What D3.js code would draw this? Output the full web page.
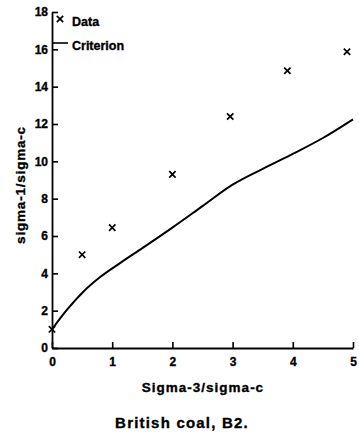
<!DOCTYPE html>
<html><head><meta charset="utf-8">
<script src="https://cdn.jsdelivr.net/npm/d3@7"></script>
<style>
body{margin:0;background:#fff;}
text{font-family:"Liberation Sans",Arial,sans-serif;font-weight:bold;fill:#000;stroke:#000;stroke-width:0.35px;}
</style></head>
<body>
<svg id="c" width="359" height="436"></svg>
<script>
const dataX = [0, 0.5, 1, 2, 2.96, 3.91, 4.9];
const dataY = [1, 5.0, 6.45, 9.3, 12.4, 14.85, 15.87];
const critX = [0, 0.25, 0.5, 0.8, 1.13, 1.5, 2, 2.5, 3, 3.5, 4, 4.5, 5];
const critY = [1, 2.05, 2.95, 3.8, 4.55, 5.35, 6.45, 7.6, 8.75, 9.6, 10.4, 11.25, 12.25];
const xTicks = [0, 1, 2, 3, 4, 5];
const yTicks = [0, 2, 4, 6, 8, 10, 12, 14, 16, 18];
const legendLabels = ["Data", "Criterion"];

const svg = d3.select("#c");
const x = d3.scaleLinear().domain([0, 5]).range([52, 353]);
const y = d3.scaleLinear().domain([0, 18]).range([348, 12]);

// axes
const xa = svg.append("g").attr("transform", `translate(0,${y(0)})`)
  .call(d3.axisBottom(x).tickValues(xTicks).tickSizeInner(-6).tickSizeOuter(0).tickPadding(9).tickFormat(d3.format("d")));
const ya = svg.append("g").attr("transform", `translate(${x(0)},0)`)
  .call(d3.axisLeft(y).tickValues(yTicks).tickSizeInner(-6).tickSizeOuter(0).tickPadding(10).tickFormat(d3.format("d")));
[xa, ya].forEach(a => {
  a.attr("font-family", null).attr("font-size", null);
  a.select(".domain").attr("stroke", "#000").attr("stroke-width", 1.8);
  a.selectAll(".tick line").attr("stroke", "#000").attr("stroke-width", 1.6);
  a.selectAll(".tick text").style("font-size", "12px");
});
ya.selectAll(".tick text").attr("x", -4);

// criterion curve
const line = d3.line().x((d, i) => x(critX[i])).y((d, i) => y(critY[i])).curve(d3.curveMonotoneX);
svg.append("path").datum(critX).attr("d", line)
  .attr("fill", "none").attr("stroke", "#000").attr("stroke-width", 2);

// data markers
const cross = d3.symbol().type(d3.symbolX).size(28);
svg.selectAll(".pt").data(dataX).join("path")
  .attr("transform", (d, i) => `translate(${x(d)},${y(dataY[i])})`)
  .attr("d", cross).attr("stroke", "#000").attr("stroke-width", 1.7).attr("fill", "none");

// legend
svg.append("path").attr("transform", "translate(60,19)").attr("d", cross)
  .attr("stroke", "#000").attr("stroke-width", 1.7).attr("fill", "none");
svg.append("text").attr("x", 72).attr("y", 26).style("font-size", "12.5px").text(legendLabels[0]);
svg.append("line").attr("x1", 52).attr("x2", 68).attr("y1", 43).attr("y2", 43)
  .attr("stroke", "#000").attr("stroke-width", 1.6);
svg.append("text").attr("x", 72).attr("y", 50).style("font-size", "12.5px").text(legendLabels[1]);

// titles
svg.append("text").attr("x", 203).attr("y", 392).attr("text-anchor", "middle")
  .style("font-size", "13.5px").style("letter-spacing", "1px").text("Sigma-3/sigma-c");
svg.append("text").attr("transform", "translate(25,185) rotate(-90)").attr("text-anchor", "middle")
  .style("font-size", "13.5px").style("letter-spacing", "0.8px").text("sigma-1/sigma-c");
svg.append("text").attr("x", 182).attr("y", 428).attr("text-anchor", "middle")
  .style("font-size", "15px").style("letter-spacing", "1.2px").text("British coal, B2.");
</script>
</body></html>
